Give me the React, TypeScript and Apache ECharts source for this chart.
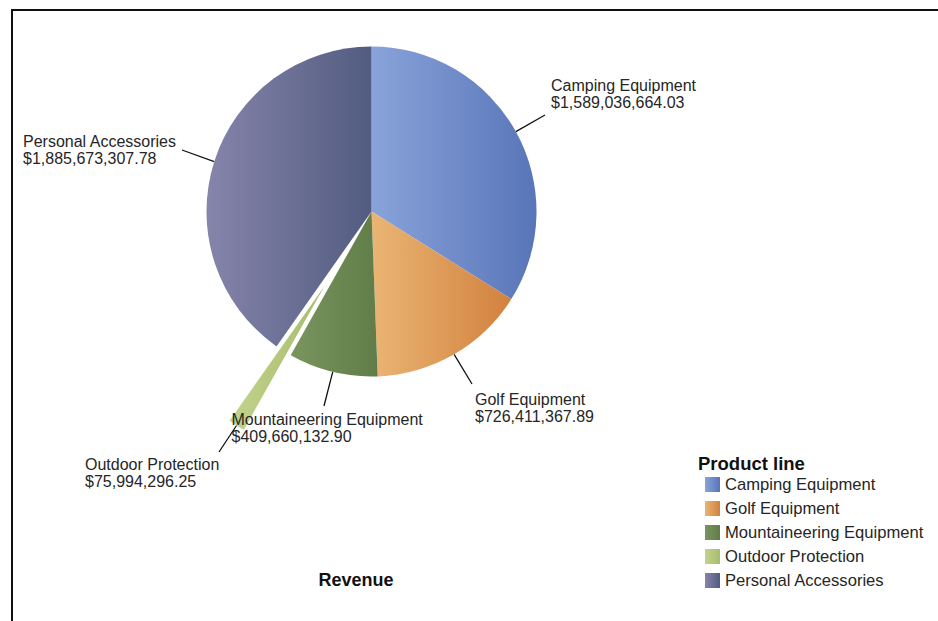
import React, { useEffect, useRef } from "react";
import * as echarts from "echarts";

// ---- data ----
const categories = [
  "Camping Equipment",
  "Golf Equipment",
  "Mountaineering Equipment",
  "Outdoor Protection",
  "Personal Accessories",
];
const revenue = [1589036664.03, 726411367.89, 409660132.9, 75994296.25, 1885673307.78];
const explodedCategory = "Outdoor Protection";
const chartTitle = "Revenue";
const legendTitle = "Product line";

// ---- styles ----
const sliceGradients: [string, string][] = [
  ["#89a3da", "#5875b8"],
  ["#eab574", "#d2813e"],
  ["#7a955e", "#607c48"],
  ["#c3d38d", "#a7bc6c"],
  ["#8684ab", "#525c80"],
];
const FONT = "'Liberation Sans', Arial, sans-serif";
const CX = 371.5;
const CY = 211.5;
const R = 165;
const EXPLODE = 88;
// label top-left positions and leader-line end points
const labelPos: Record<string, [number, number]> = {
  "Camping Equipment": [551, 77],
  "Golf Equipment": [475, 390.5],
  "Mountaineering Equipment": [231.5, 411],
  "Outdoor Protection": [85, 456],
  "Personal Accessories": [23, 132.5],
};
const lineEnd: Record<string, [number, number]> = {
  "Camping Equipment": [545, 115],
  "Golf Equipment": [472, 384],
  "Mountaineering Equipment": [324, 406],
  "Outdoor Protection": [219, 452],
  "Personal Accessories": [182, 150],
};

const fmt = (v: number) =>
  "$" + v.toLocaleString("en-US", { minimumFractionDigits: 2, maximumFractionDigits: 2 });

const grad = (i: number) =>
  new echarts.graphic.LinearGradient(0, 0, 1, 0, [
    { offset: 0, color: sliceGradients[i][0] },
    { offset: 1, color: sliceGradients[i][1] },
  ]);

export default function App() {
  const ref = useRef<HTMLDivElement>(null);
  useEffect(() => {
    if (!ref.current) return;
    const chart = echarts.init(ref.current, undefined, { renderer: "svg" });
    const total = revenue.reduce((a, b) => a + b, 0);
    const midAngles: number[] = [];
    let acc = 0;
    revenue.forEach((v) => {
      const a = (v / total) * Math.PI * 2;
      midAngles.push(acc + a / 2);
      acc += a;
    });
    const expIdx = categories.indexOf(explodedCategory);
    const dx = EXPLODE * Math.sin(midAngles[expIdx]);
    const dy = -EXPLODE * Math.cos(midAngles[expIdx]);
    const edgePoint = (i: number) => {
      const rr = R + (i === expIdx ? EXPLODE : 0);
      const a = midAngles[i];
      return [CX + rr * Math.sin(a), CY - rr * Math.cos(a)];
    };

    const labelCommon = {
      show: true,
      position: "outside",
      fontFamily: FONT,
      fontSize: 16,
      lineHeight: 17,
      color: "#262626",
      align: "left",
      formatter: (p: any) => `${p.name}\n${fmt(p.value)}`,
    };
    const labelLineCommon = {
      show: true,
      length: 20,
      length2: 0,
      lineStyle: { color: "#111", width: 1.3 },
    };
    const layout = (p: any) => {
      const name = categories[p.dataIndex];
      const pos = labelPos[name];
      return {
        x: pos[0],
        y: pos[1],
        align: "left",
        verticalAlign: "top",
        labelLinePoints: [edgePoint(p.dataIndex), lineEnd[name]],
      };
    };
    const hidden = {
      itemStyle: { color: "rgba(0,0,0,0)" },
      label: { show: false },
      labelLine: { show: false },
    };

    const mainData = categories.map((name, i) =>
      i === expIdx
        ? { name, value: revenue[i], ...hidden }
        : { name, value: revenue[i], itemStyle: { color: grad(i) } }
    );
    const explodedData = categories.map((name, i) =>
      i === expIdx
        ? { name, value: revenue[i], itemStyle: { color: grad(i) } }
        : { name, value: revenue[i], ...hidden }
    );

    const pieBase = {
      type: "pie",
      radius: [0, R],
      startAngle: 90,
      clockwise: true,
      avoidLabelOverlap: false,
      silent: true,
      emphasis: { disabled: true },
      itemStyle: { borderWidth: 0 },
      label: labelCommon,
      labelLine: labelLineCommon,
      labelLayout: layout,
    };

    chart.setOption({
      animation: false,
      backgroundColor: "#ffffff",
      legend: {
        orient: "vertical",
        left: 705,
        top: 476,
        padding: 0,
        itemWidth: 15,
        itemHeight: 15,
        itemGap: 7,
        icon: "rect",
        selectedMode: false,
        data: categories.map((name, i) => ({ name, itemStyle: { color: grad(i), opacity: 1 } })),
        textStyle: { fontFamily: FONT, fontSize: 16.6, color: "#262626", lineHeight: 16 },
      },
      series: [
        { ...pieBase, name: "main", center: [CX, CY], data: mainData },
        { ...pieBase, name: "exploded", center: [CX + dx, CY + dy], data: explodedData },
      ],
      graphic: [
        {
          type: "line",
          shape: { x1: 11, y1: 10, x2: 938, y2: 10 },
          style: { stroke: "#111", lineWidth: 2 },
        },
        {
          type: "line",
          shape: { x1: 12, y1: 9, x2: 12, y2: 621 },
          style: { stroke: "#111", lineWidth: 2 },
        },
        {
          type: "text",
          x: 356,
          y: 580,
          style: {
            text: chartTitle,
            font: `bold 18px ${FONT}`,
            fill: "#111",
            textAlign: "center",
            textVerticalAlign: "middle",
          },
        },
        {
          type: "text",
          x: 698,
          y: 463,
          style: {
            text: legendTitle,
            font: `bold 18.5px ${FONT}`,
            fill: "#111",
            textAlign: "left",
            textVerticalAlign: "middle",
          },
        },
      ],
    });
    return () => chart.dispose();
  }, []);
  return (
    <div
      ref={ref}
      style={{ position: "fixed", left: 0, top: 0, width: 938, height: 621, background: "#fff" }}
    />
  );
}
